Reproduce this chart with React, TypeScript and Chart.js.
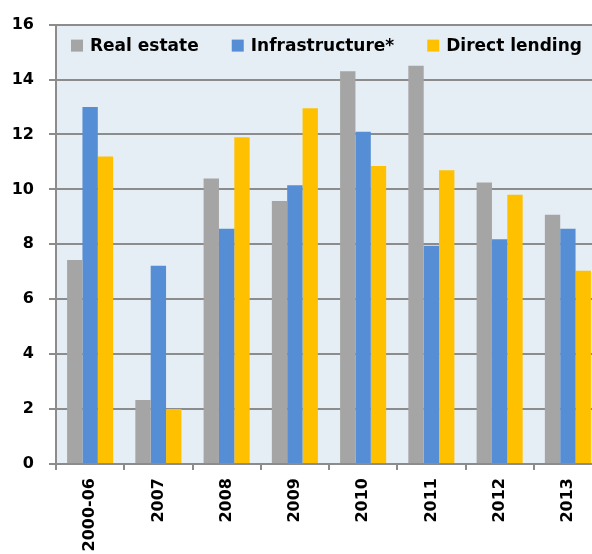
import React, { useEffect, useRef } from "react";
import { Chart, registerables } from "chart.js";

Chart.register(...registerables);

const categories = ["2000-06", "2007", "2008", "2009", "2010", "2011", "2012", "2013"];
const realEstate = [7.43, 2.33, 10.4, 9.58, 14.3, 14.5, 10.25, 9.08];
const infrastructure = [13.0, 7.22, 8.57, 10.15, 12.1, 7.95, 8.18, 8.57];
const directLending = [11.2, 2.0, 11.9, 12.95, 10.85, 10.7, 9.8, 7.04];
const seriesNames = ["Real estate", "Infrastructure*", "Direct lending"];
const seriesColors = ["#A5A5A5", "#558ED5", "#FFC000"];
const yTicks = [0, 2, 4, 6, 8, 10, 12, 14, 16];

const FONT = "'DejaVu Sans', sans-serif";
const GRID = "#8C8C8C";

const bgPlugin = {
  id: "plotBg",
  beforeDraw(chart: any) {
    const { ctx, chartArea } = chart;
    ctx.save();
    ctx.fillStyle = "#E6EEF5";
    ctx.fillRect(chartArea.left, chartArea.top, chartArea.right - chartArea.left, chartArea.bottom - chartArea.top);
    ctx.restore();
  },
};

const legendPlugin = {
  id: "innerLegend",
  afterDatasetsDraw(chart: any) {
    const { ctx, chartArea } = chart;
    ctx.save();
    ctx.font = `bold 17px ${FONT}`;
    ctx.textBaseline = "middle";
    ctx.textAlign = "left";
    let x = chartArea.left + 15;
    const cy = chartArea.top + 21;
    chart.data.datasets.forEach((ds: any) => {
      ctx.fillStyle = ds.backgroundColor;
      ctx.fillRect(x, cy - 6, 12, 12);
      x += 19;
      ctx.fillStyle = "#000";
      ctx.fillText(ds.label, x, cy + 1);
      x += ctx.measureText(ds.label).width + 33;
    });
    ctx.restore();
  },
};

export default function App() {
  const ref = useRef<HTMLCanvasElement | null>(null);
  useEffect(() => {
    document.body.style.margin = "0";
    const canvas = ref.current!;
    const data = [realEstate, infrastructure, directLending];
    const chart = new Chart(canvas, {
      type: "bar",
      data: {
        labels: categories,
        datasets: data.map((d, i) => ({
          label: seriesNames[i],
          data: d,
          backgroundColor: seriesColors[i],
          borderWidth: 0,
          categoryPercentage: 0.675,
          barPercentage: 1.0,
        })),
      },
      options: {
        responsive: false,
        animation: false,
        devicePixelRatio: 1,
        layout: { padding: { top: 24, right: 0, left: 0, bottom: 0 } },
        plugins: { legend: { display: false }, tooltip: { enabled: false } },
        scales: {
          x: {
            grid: { display: true, drawOnChartArea: false, drawTicks: true, tickLength: 6, color: GRID, lineWidth: 2, offset: true },
            border: { display: true, color: GRID, width: 2 },
            ticks: {
              minRotation: 90,
              maxRotation: 90,
              padding: 8,
              color: "#000",
              font: { family: FONT, size: 16, weight: "bold" },
              autoSkip: false,
            },
            afterFit(scale: any) {
              scale.height = 90;
            },
          },
          y: {
            min: 0,
            max: 16,
            afterBuildTicks(scale: any) {
              scale.ticks = yTicks.map((v) => ({ value: v }));
            },
            grid: { color: GRID, lineWidth: 2, drawTicks: true, tickLength: 7 },
            border: { display: true, color: GRID, width: 2 },
            ticks: {
              padding: 15,
              color: "#000",
              font: { family: FONT, size: 16, weight: "bold" },
            },
            afterFit(scale: any) {
              scale.width = 56;
            },
          },
        },
      },
      plugins: [bgPlugin, legendPlugin],
    });
    return () => chart.destroy();
  }, []);
  return (
    <div style={{ width: 592, height: 554, overflow: "hidden" }}>
      <canvas ref={ref} width={602} height={554} style={{ width: 602, height: 554, display: "block" }} />
    </div>
  );
}
